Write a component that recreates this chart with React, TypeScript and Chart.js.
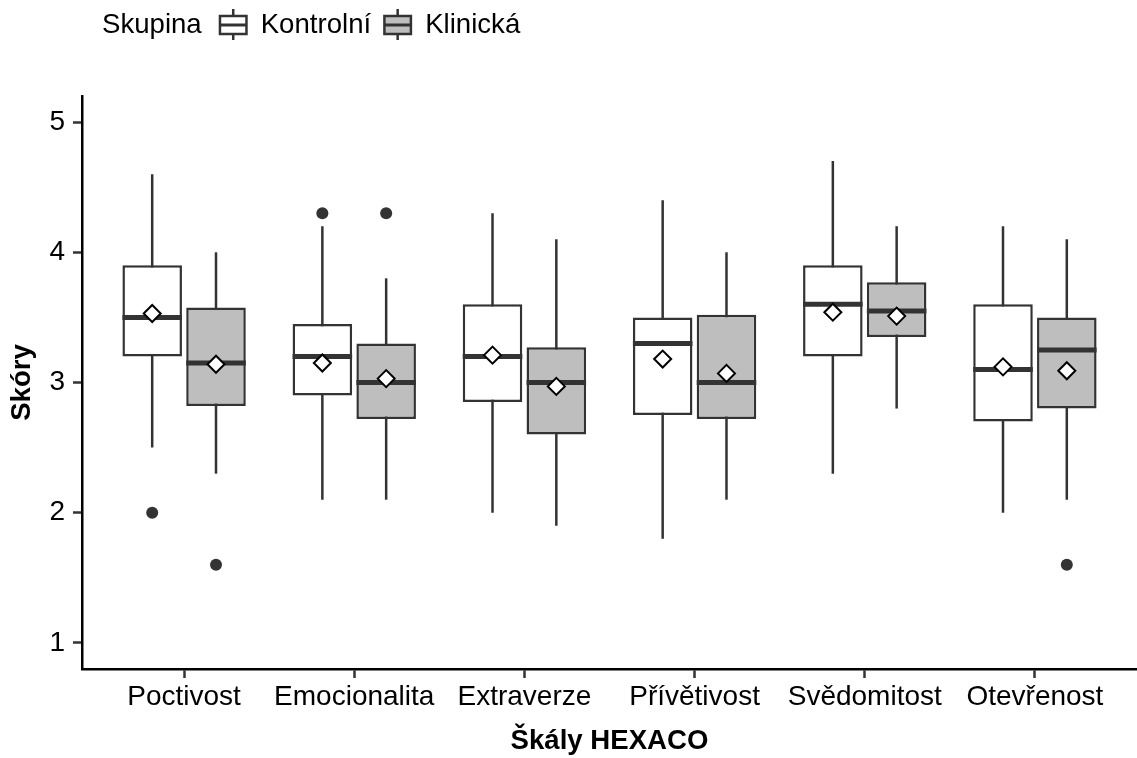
import React, { useEffect, useRef } from 'react';
import { Chart, registerables } from 'chart.js';

Chart.register(...registerables);

// ---------- data ----------
const categories = ['Poctivost', 'Emocionalita', 'Extraverze', 'Přívětivost', 'Svědomitost', 'Otevřenost'];
const groupLabels = ['Kontrolní', 'Klinická'];
const legendTitle = 'Skupina';
const xTitle = 'Škály HEXACO';
const yTitle = 'Skóry';
const yTickValues = [1, 2, 3, 4, 5];

// Kontrolní
const ctrlLow = [2.5, 2.1, 2.0, 1.8, 2.3, 2.0];
const ctrlQ1 = [3.2, 2.9, 2.85, 2.75, 3.2, 2.7];
const ctrlMedian = [3.5, 3.2, 3.2, 3.3, 3.6, 3.1];
const ctrlQ3 = [3.9, 3.45, 3.6, 3.5, 3.9, 3.6];
const ctrlHigh = [4.6, 4.2, 4.3, 4.4, 4.7, 4.2];
const ctrlMean = [3.53, 3.15, 3.21, 3.18, 3.54, 3.12];
const ctrlOutliers = [[2.0], [4.3], [], [], [], []];

// Klinická
const clinLow = [2.3, 2.1, 1.9, 2.1, 2.8, 2.1];
const clinQ1 = [2.82, 2.72, 2.6, 2.72, 3.35, 2.8];
const clinMedian = [3.15, 3.0, 3.0, 3.0, 3.55, 3.25];
const clinQ3 = [3.575, 3.3, 3.27, 3.52, 3.77, 3.5];
const clinHigh = [4.0, 3.8, 4.1, 4.0, 4.2, 4.1];
const clinMean = [3.14, 3.03, 2.97, 3.07, 3.51, 3.09];
const clinOutliers = [[1.6], [4.3], [], [], [], [1.6]];

// ---------- styling ----------
const FONT = '"Liberation Sans", Arial, sans-serif';
const LINE = '#333333';
const FILLS = ['#ffffff', '#bebebe'];
const DODGE = 0.1875; // half of dodge width 0.75
const W = 1137;
const H = 758;

const xPos = categories.map((_, i) => i + 1);

const groups = [
  { low: ctrlLow, q1: ctrlQ1, med: ctrlMedian, q3: ctrlQ3, high: ctrlHigh, mean: ctrlMean, out: ctrlOutliers },
  { low: clinLow, q1: clinQ1, med: clinMedian, q3: clinQ3, high: clinHigh, mean: clinMean, out: clinOutliers },
];

const boxDatasets = groups.map((g, gi) => ({
  type: 'bar' as const,
  label: groupLabels[gi],
  data: xPos.map((x, i) => ({ x, y: [g.q1[i], g.q3[i]] })),
  backgroundColor: FILLS[gi],
  borderColor: LINE,
  borderWidth: 2.5,
  borderSkipped: false,
  whiskerLow: g.low,
  whiskerHigh: g.high,
  medians: g.med,
  order: 3,
}));

const outlierDatasets = groups.map((g, gi) => ({
  type: 'scatter' as const,
  label: groupLabels[gi] + ' outliers',
  data: g.out.flatMap((vals, i) => vals.map((v) => ({ x: xPos[i] + (gi === 0 ? -DODGE : DODGE), y: v }))),
  pointStyle: 'circle',
  pointRadius: 6,
  backgroundColor: LINE,
  borderWidth: 0,
  order: 2,
}));

const meanDatasets = groups.map((g, gi) => ({
  type: 'scatter' as const,
  label: groupLabels[gi] + ' mean',
  data: g.mean.map((v, i) => ({ x: xPos[i] + (gi === 0 ? -DODGE : DODGE), y: v })),
  pointStyle: 'rectRot',
  pointRadius: 8.5,
  backgroundColor: '#ffffff',
  borderColor: '#000000',
  borderWidth: 2,
  order: 1,
}));

const boxPlugin = {
  id: 'boxParts',
  beforeDatasetsDraw(chart: any) {
    const ctx = chart.ctx;
    const yScale = chart.scales.y;
    chart.data.datasets.forEach((ds: any, di: number) => {
      if (!ds.whiskerLow) return;
      const meta = chart.getDatasetMeta(di);
      ctx.save();
      ctx.strokeStyle = LINE;
      ctx.lineWidth = 2.5;
      meta.data.forEach((el: any, i: number) => {
        const x = el.x;
        ctx.beginPath();
        ctx.moveTo(x, yScale.getPixelForValue(ds.whiskerLow[i]));
        ctx.lineTo(x, yScale.getPixelForValue(ds.whiskerHigh[i]));
        ctx.stroke();
      });
      ctx.restore();
    });
  },
  afterDatasetDraw(chart: any, args: any) {
    const ds: any = chart.data.datasets[args.index];
    if (!ds.medians) return;
    const ctx = chart.ctx;
    const yScale = chart.scales.y;
    ctx.save();
    ctx.strokeStyle = LINE;
    ctx.lineWidth = 5;
    args.meta.data.forEach((el: any, i: number) => {
      const y = yScale.getPixelForValue(ds.medians[i]);
      ctx.beginPath();
      ctx.moveTo(el.x - el.width / 2, y);
      ctx.lineTo(el.x + el.width / 2, y);
      ctx.stroke();
    });
    ctx.restore();
  },
};

const legendPlugin = {
  id: 'boxLegend',
  afterDraw(chart: any) {
    const ctx = chart.ctx;
    const cy = 25;
    let x = 102;
    ctx.save();
    ctx.font = `27.6px ${FONT}`;
    ctx.fillStyle = '#000';
    ctx.textBaseline = 'middle';
    ctx.textAlign = 'left';
    ctx.fillText(legendTitle, x, cy);
    x += ctx.measureText(legendTitle).width + 17;
    chart.data.datasets.forEach((ds: any) => {
      if (!ds.medians) return;
      const kw = 29;
      const cx = x + kw / 2;
      ctx.strokeStyle = LINE;
      ctx.lineWidth = 2.5;
      ctx.beginPath();
      ctx.moveTo(cx, cy - 16);
      ctx.lineTo(cx, cy + 15);
      ctx.stroke();
      ctx.fillStyle = ds.backgroundColor;
      ctx.fillRect(x + 1.25, cy - 9, kw - 2.5, 18);
      ctx.strokeRect(x + 1.25, cy - 9, kw - 2.5, 18);
      ctx.lineWidth = 3;
      ctx.beginPath();
      ctx.moveTo(x + 1.25, cy);
      ctx.lineTo(x + kw - 1.25, cy);
      ctx.stroke();
      x += kw + 13;
      ctx.fillStyle = '#000';
      ctx.fillText(ds.label, x, cy);
      x += ctx.measureText(ds.label).width + 12;
    });
    ctx.restore();
  },
};

export default function App() {
  const ref = useRef<HTMLCanvasElement>(null);
  useEffect(() => {
    document.body.style.margin = '0';
    const canvas = ref.current!;
    const chart = new Chart(canvas, {
      type: 'bar',
      data: {
        datasets: [...boxDatasets, ...outlierDatasets, ...meanDatasets] as any,
      },
      options: {
        animation: false,
        responsive: false,
        devicePixelRatio: 1,
        events: [],
        layout: { autoPadding: false, padding: { top: 96, left: 0, right: 0, bottom: 0 } },
        datasets: {
          bar: { categoryPercentage: 0.75, barPercentage: 0.9333, grouped: true },
        },
        plugins: {
          legend: { display: false },
          tooltip: { enabled: false },
        },
        scales: {
          x: {
            type: 'linear',
            min: 0.4,
            max: 6.6,
            offset: false,
            afterBuildTicks: (scale: any) => {
              scale.ticks = xPos.map((v) => ({ value: v }));
            },
            afterFit: (scale: any) => {
              scale.height = 89;
              scale.paddingLeft = 0;
              scale.paddingRight = 0;
            },
            grid: {
              display: true,
              offset: false,
              drawOnChartArea: false,
              drawTicks: true,
              tickLength: 9,
              tickWidth: 2.5,
              tickColor: LINE,
            },
            border: { display: true, color: '#000', width: 2.5 },
            ticks: {
              autoSkip: false,
              maxRotation: 0,
              padding: 2,
              color: '#000',
              font: { family: FONT, size: 28 },
              callback: (v: any) => categories[Math.round(Number(v)) - 1] ?? '',
            },
            title: {
              display: true,
              text: xTitle,
              color: '#000',
              font: { family: FONT, size: 27.6, weight: 'bold' },
              padding: { top: 0, bottom: 0 },
            },
          },
          y: {
            type: 'linear',
            min: 0.8,
            max: 5.2,
            afterBuildTicks: (scale: any) => {
              scale.ticks = yTickValues.map((v) => ({ value: v }));
            },
            afterFit: (scale: any) => {
              scale.width = 82;
            },
            grid: {
              display: true,
              drawOnChartArea: false,
              drawTicks: true,
              tickLength: 9,
              tickWidth: 2.5,
              tickColor: LINE,
            },
            border: { display: true, color: '#000', width: 2.5 },
            ticks: {
              padding: 8,
              color: '#000',
              font: { family: FONT, size: 28 },
              callback: (v: any) => String(v),
            },
            title: {
              display: true,
              text: yTitle,
              color: '#000',
              font: { family: FONT, size: 27.6, weight: 'bold' },
              padding: { top: 6, bottom: 0 },
            },
          },
        },
      },
      plugins: [boxPlugin, legendPlugin],
    } as any);
    return () => chart.destroy();
  }, []);
  return (
    <div style={{ width: W, height: H }}>
      <canvas ref={ref} width={W} height={H} style={{ display: 'block' }} />
    </div>
  );
}
